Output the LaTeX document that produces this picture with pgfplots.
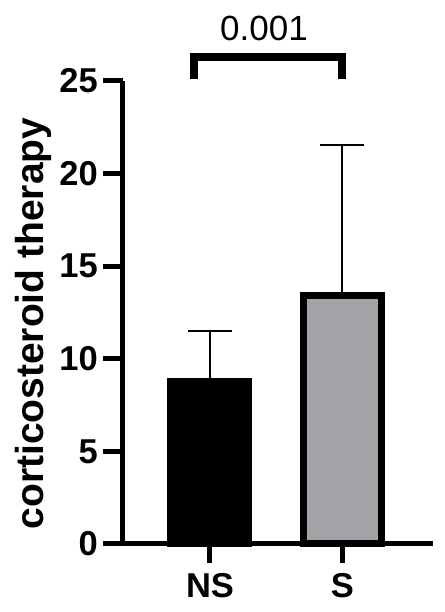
\documentclass[border=0pt]{standalone}
\usepackage{fontspec}
\setmainfont{Liberation Sans}
\usepackage{pgfplots}
\pgfplotsset{compat=1.18}
\definecolor{barS}{RGB}{163,162,167}
\begin{document}
\begin{tikzpicture}
\begin{axis}[name=ax, scale only axis, width=333.24pt, height=485.22pt,
  xmin=-0.831, xmax=1.688, ymin=-1.2, ymax=25,
  axis x line=bottom, axis y line=left,
  axis line style={draw=none, -},
  xtick={0,1}, xticklabels={NS,S}, ytick={0,5,10,15,20,25},
  tick style={draw=none},
  major tick length=0pt,
  xticklabel style={font=\bfseries\fontsize{34.5}{34.5}\selectfont, anchor=north, inner sep=0pt, yshift=-7pt},
  yticklabel style={font=\bfseries\fontsize{34.5}{34.5}\selectfont, anchor=east, inner sep=0pt, xshift=-2pt},
  /pgf/number format/assume math mode=true,
  ylabel={corticosteroid therapy},
  ylabel style={font=\bfseries\fontsize{39}{39}\selectfont, at={(axis description cs:-0.201,0.500)}, anchor=center, rotate=0},
  clip=false,
  unbounded coords=jump,
]
\addplot[ybar, bar width=78pt, fill=black, draw=black, line width=7pt,
  error bars/.cd, y dir=plus, y explicit,
  error bar style={line width=2pt, black},
  error mark options={rotate=90, line width=2pt, mark size=22pt}]
  coordinates {(0,8.8) +- (0,2.68)};
\addplot[ybar, bar width=78pt, fill=barS, draw=black, line width=7pt,
  error bars/.cd, y dir=plus, y explicit,
  error bar style={line width=2pt, black},
  error mark options={rotate=90, line width=2pt, mark size=22pt}]
  coordinates {(1,13.4) +- (0,8.17)};
\addplot[line width=8pt, mark=none, line join=miter, black]
  coordinates {(-0.121,25.11) (-0.121,26.27) (0.995,26.27) (0.995,25.11)};
\node[font=\fontsize{35}{35}\selectfont, anchor=base] at (axis cs:0.408,27.21) {0.001};
% axis lines
\addplot[line width=5pt, mark=none, line join=miter, black]
  coordinates {(-0.661,25) (-0.661,0) (1.688,0)};
% y ticks
\addplot[line width=5pt, mark=none, black]
  coordinates {(-0.661,0) (-0.8084,0) (nan,nan)
               (-0.661,5) (-0.8084,5) (nan,nan)
               (-0.661,10) (-0.8084,10) (nan,nan)
               (-0.661,15) (-0.8084,15) (nan,nan)
               (-0.661,20) (-0.8084,20) (nan,nan)
               (-0.661,25) (-0.8084,25)};
% x ticks
\addplot[line width=5pt, mark=none, black]
  coordinates {(0,0) (0,-1.026) (nan,nan) (1,0) (1,-1.026)};
\end{axis}
\pgfresetboundingbox
\path ([shift={(-100.06pt,-45.78pt)}]ax.south west) rectangle ++(444pt,612pt);
\end{tikzpicture}
\end{document}
